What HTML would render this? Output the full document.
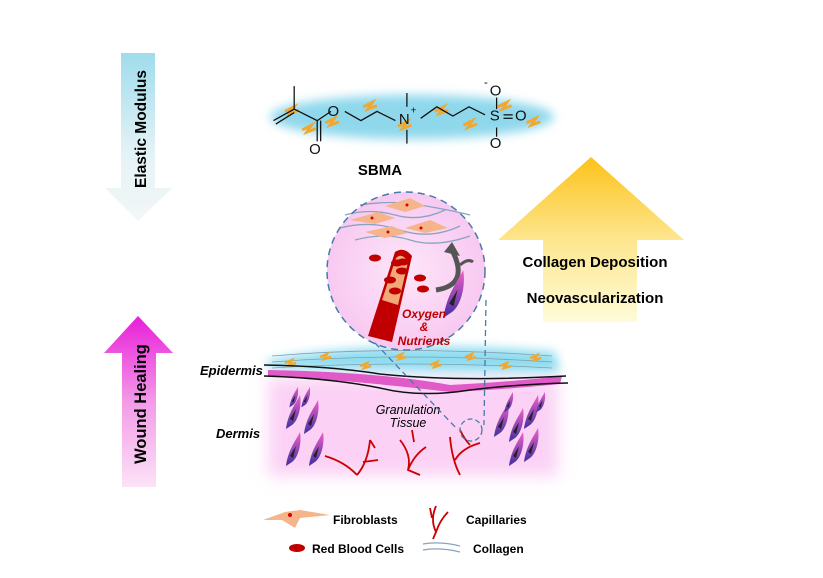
<!DOCTYPE html>
<html><head><meta charset="utf-8"><style>
html,body{margin:0;padding:0;background:#fff;}
svg{display:block;font-family:"Liberation Sans",Arial,sans-serif;}
</style></head><body>
<svg width="823" height="578" viewBox="0 0 823 578" xmlns="http://www.w3.org/2000/svg">
<defs>
<linearGradient id="gE" x1="0" y1="0" x2="0" y2="1"><stop offset="0" stop-color="#9fdcec"/><stop offset="0.6" stop-color="#e4f3f6"/><stop offset="1" stop-color="#f3f6f7"/></linearGradient>
<linearGradient id="gW" x1="0" y1="0" x2="0" y2="1"><stop offset="0" stop-color="#e81ed8"/><stop offset="0.5" stop-color="#f39ae8"/><stop offset="1" stop-color="#fbe3f7"/></linearGradient>
<linearGradient id="gY" x1="0" y1="0" x2="0" y2="1"><stop offset="0" stop-color="#fdc21a"/><stop offset="0.5" stop-color="#fde68e"/><stop offset="1" stop-color="#fefbd8"/></linearGradient>
<linearGradient id="gCell" x1="0" y1="0" x2="0" y2="1"><stop offset="0" stop-color="#f060c8"/><stop offset="1" stop-color="#4030a0"/></linearGradient>
<radialGradient id="gCirc" cx="0.5" cy="0.5" r="0.5"><stop offset="0" stop-color="#fde6f9"/><stop offset="1" stop-color="#f8c9f1"/></radialGradient>
<filter id="blur" x="-20%" y="-50%" width="140%" height="200%"><feGaussianBlur stdDeviation="5"/></filter>
<filter id="blur2" x="-20%" y="-50%" width="140%" height="200%"><feGaussianBlur stdDeviation="8"/></filter>
<g id="cell"><path d="M0,0 C6,-4 10,-18 8,-30 C4,-22 -4,-12 -6,4 Z" fill="url(#gCell)"/><path d="M1,-4 L4,-16 L-2,-6 Z" fill="#222"/></g>
</defs>

<!-- Elastic modulus arrow -->
<path d="M121,53 H155 V188 H172 L138,221 L105,188 H121 Z" fill="url(#gE)"/>
<text transform="translate(146,129) rotate(-90)" text-anchor="middle" font-size="15.5" font-weight="bold">Elastic Modulus</text>
<!-- Wound healing arrow -->
<path d="M138,316 L173,353 H156 V487 H122 V353 H104 Z" fill="url(#gW)"/>
<text transform="translate(146,404) rotate(-90)" text-anchor="middle" font-size="16.5" font-weight="bold">Wound Healing</text>
<!-- Yellow arrow -->
<path d="M591,157 L684,240 H637 V322 H543 V240 H498 Z" fill="url(#gY)"/>
<text x="595" y="267" text-anchor="middle" font-size="15" font-weight="bold">Collagen Deposition</text>
<text x="595" y="303" text-anchor="middle" font-size="15" font-weight="bold">Neovascularization</text>

<!-- SBMA hydrogel -->
<ellipse cx="412" cy="117" rx="142" ry="22" fill="#8fd8ec" filter="url(#blur)"/>
<g transform="translate(400,116) scale(1.15) translate(-400,-116)">
<g stroke="#f0a830" stroke-width="2.5" fill="none">
<path d="M300,112 l8,-4 l-4,6 l8,-3"/><path d="M335,122 l8,-4 l-4,6 l8,-3"/><path d="M368,108 l8,-4 l-4,6 l8,-3"/><path d="M398,125 l8,-4 l-4,6 l8,-3"/><path d="M430,112 l8,-4 l-4,6 l8,-3"/><path d="M455,124 l8,-4 l-4,6 l8,-3"/><path d="M485,108 l8,-4 l-4,6 l8,-3"/><path d="M510,122 l8,-4 l-4,6 l8,-3"/><path d="M315,128 l8,-4 l-4,6 l8,-3"/>
</g>
<g stroke="#111" stroke-width="1.1" fill="none">
<path d="M290,120 L308,110 L308,90"/><path d="M292,123 L308,113"/><path d="M308,110 L328,120 L340,112"/>
<path d="M328,120 V138"/><path d="M331,120 V138"/>
<path d="M352,112 L366,120 L380,112 L396,120"/>
<path d="M406,108 V96"/><path d="M406,128 V140"/>
<path d="M418,118 L432,108 L446,116 L460,108 L474,115"/>
<path d="M484,110 V100"/><path d="M484,126 V134"/><path d="M490,115 L498,115"/><path d="M490,118 L498,118"/>
</g>
<g font-size="13" fill="#111"><text x="337" y="116">O</text><text x="321" y="149">O</text><text x="399" y="123">N</text><text x="409" y="114" font-size="9">+</text><text x="478" y="120">S</text><text x="500" y="120">O</text><text x="478" y="98">O</text><text x="473" y="90" font-size="10">-</text><text x="478" y="144">O</text></g>
</g>
<text x="380" y="175" text-anchor="middle" font-size="15" font-weight="bold">SBMA</text>

<!-- Dermis pink -->
<rect x="268" y="378" width="290" height="98" fill="#fbd2f5" filter="url(#blur2)"/>
<!-- epidermis hydrogel -->
<path d="M270,360 Q380,338 555,352 L560,372 Q420,372 265,368 Z" fill="#8fdcf0" filter="url(#blur)"/>
<path d="M268,370 Q380,372 450,385 Q510,382 562,376 L560,384 Q500,390 450,392 Q350,380 268,376 Z" fill="#e05ac8"/>
<g stroke="#7f9fb0" stroke-width="0.8" fill="none"><path d="M272,356 Q400,345 552,356"/><path d="M272,362 Q400,352 552,362"/><path d="M272,368 Q400,360 552,368"/></g>
<g stroke="#f0a830" stroke-width="2.5" fill="none"><path d="M285,363 l7,-3 l-3,5 l7,-2"/><path d="M320,357 l7,-3 l-3,5 l7,-2"/><path d="M360,366 l7,-3 l-3,5 l7,-2"/><path d="M395,357 l7,-3 l-3,5 l7,-2"/><path d="M430,365 l7,-3 l-3,5 l7,-2"/><path d="M465,357 l7,-3 l-3,5 l7,-2"/><path d="M500,366 l7,-3 l-3,5 l7,-2"/><path d="M530,358 l7,-3 l-3,5 l7,-2"/></g>
<path d="M264,365 Q330,366 380,374 Q460,382 566,376" stroke="#111" stroke-width="1.5" fill="none"/>
<path d="M264,376 Q330,378 380,388 Q420,398 470,390 Q520,384 568,383" stroke="#111" stroke-width="1.5" fill="none"/>
<text x="200" y="375" font-size="13" font-weight="bold" font-style="italic">Epidermis</text>
<text x="216" y="438" font-size="13" font-weight="bold" font-style="italic">Dermis</text>
<text x="408" y="414" text-anchor="middle" font-size="12.5" font-style="italic">Granulation</text>
<text x="408" y="427" text-anchor="middle" font-size="12.5" font-style="italic">Tissue</text>
<!-- dermis cells -->
<g><use href="#cell" transform="translate(292,425)"/><use href="#cell" transform="translate(310,430)"/><use href="#cell" transform="translate(292,462)"/><use href="#cell" transform="translate(315,462)"/><use href="#cell" transform="translate(293,405)scale(0.6)"/><use href="#cell" transform="translate(305,405)scale(0.6)"/>
<use href="#cell" transform="translate(500,433)"/><use href="#cell" transform="translate(515,438)"/><use href="#cell" transform="translate(530,425)"/><use href="#cell" transform="translate(515,462)"/><use href="#cell" transform="translate(530,458)"/><use href="#cell" transform="translate(508,410)scale(0.6)"/><use href="#cell" transform="translate(540,410)scale(0.6)"/></g>
<!-- capillaries -->
<g stroke="#c00" stroke-width="1.8" fill="none">
<path d="M325,456 Q345,462 357,475 M357,475 Q368,462 370,440 M363,462 L378,460 M370,440 L375,448"/>
<path d="M400,440 Q412,455 408,470 L420,475 M408,470 Q414,455 426,447 M412,430 L414,442"/>
<path d="M450,437 Q452,460 460,475 M455,460 Q462,448 480,443 M460,430 Q465,440 470,445"/>
</g>
<!-- magnified circle -->
<circle cx="406" cy="271" r="79" fill="url(#gCirc)"/>
<g stroke="#8aa4c0" stroke-width="1.3" fill="none">
<path d="M345,215 Q370,208 395,215 T445,210"/><path d="M340,228 Q370,220 400,230 T460,226"/><path d="M355,240 Q385,232 410,240 T470,236"/><path d="M360,205 Q390,200 420,205 T470,215"/>
</g>
<g fill="#f5b48a"><path d="M350,220 L378,212 L395,218 L375,224 Z"/><path d="M385,206 L410,198 L425,206 L405,212 Z"/><path d="M365,232 L392,226 L408,233 L385,238 Z"/><path d="M405,228 L430,220 L448,228 L425,233 Z"/></g>
<g fill="#d00"><circle cx="372" cy="218" r="1.5"/><circle cx="407" cy="205" r="1.5"/><circle cx="388" cy="232" r="1.5"/><circle cx="421" cy="228" r="1.5"/></g>
<path d="M368,336 L392,342 L412,256 Q404,246 395,252 Z" fill="#c00000"/>
<path d="M382,300 L398,305 L408,262 Q402,252 396,258 Z" fill="#f3a878"/>
<g fill="#c00000"><ellipse cx="375" cy="258" rx="6" ry="3.5"/><ellipse cx="397" cy="263" rx="6" ry="3.5"/><ellipse cx="403" cy="262" rx="6" ry="3.5"/><ellipse cx="402" cy="271" rx="6" ry="3.5"/><ellipse cx="390" cy="280" rx="6" ry="3.5"/><ellipse cx="395" cy="291" rx="6" ry="3.5"/><ellipse cx="420" cy="278" rx="6" ry="3.5"/><ellipse cx="423" cy="289" rx="6" ry="3.5"/></g>
<path d="M436,290 Q470,285 452,250" stroke="#555" stroke-width="5" fill="none"/><path d="M444,252 L452,242 L460,256 Z" fill="#555"/>
<path d="M460,265 Q468,258 473,262" stroke="#555" stroke-width="3" fill="none"/>
<use href="#cell" transform="translate(452,312) scale(1.4)"/>
<circle cx="406" cy="271" r="79" fill="none" stroke="#4a7aa8" stroke-width="1.5" stroke-dasharray="7,5"/>
<path d="M375,343 L458,430 M486,300 L484,425" stroke="#4a7aa8" stroke-width="1.3" stroke-dasharray="6,4" fill="none"/>
<circle cx="471" cy="430" r="11" fill="none" stroke="#4a7aa8" stroke-width="1.3" stroke-dasharray="5,3"/>
<g font-size="12" font-weight="bold" font-style="italic" fill="#c00000" text-anchor="middle"><text x="424" y="318">Oxygen</text><text x="424" y="331">&amp;</text><text x="424" y="345">Nutrients</text></g>

<!-- legend -->
<path d="M263,520 L285,512 L300,510 L330,515 L300,518 L295,528 L282,520 Z" fill="#f5b48a"/><circle cx="290" cy="515" r="2" fill="#d00"/>
<text x="333" y="524" font-size="12" font-weight="bold">Fibroblasts</text>
<path d="M436,506 Q430,520 436,532 L433,539 M436,532 Q440,520 448,512 M432,518 L430,508" stroke="#c00" stroke-width="1.8" fill="none"/>
<text x="466" y="524" font-size="12" font-weight="bold">Capillaries</text>
<ellipse cx="297" cy="548" rx="8" ry="4" fill="#c00000"/>
<text x="312" y="553" font-size="12" font-weight="bold">Red Blood Cells</text>
<g stroke="#8aa4c0" stroke-width="1.3" fill="none"><path d="M423,544 Q440,541 460,546"/><path d="M423,550 Q440,547 460,552"/></g>
<text x="473" y="553" font-size="12" font-weight="bold">Collagen</text>
</svg>
</body></html>
